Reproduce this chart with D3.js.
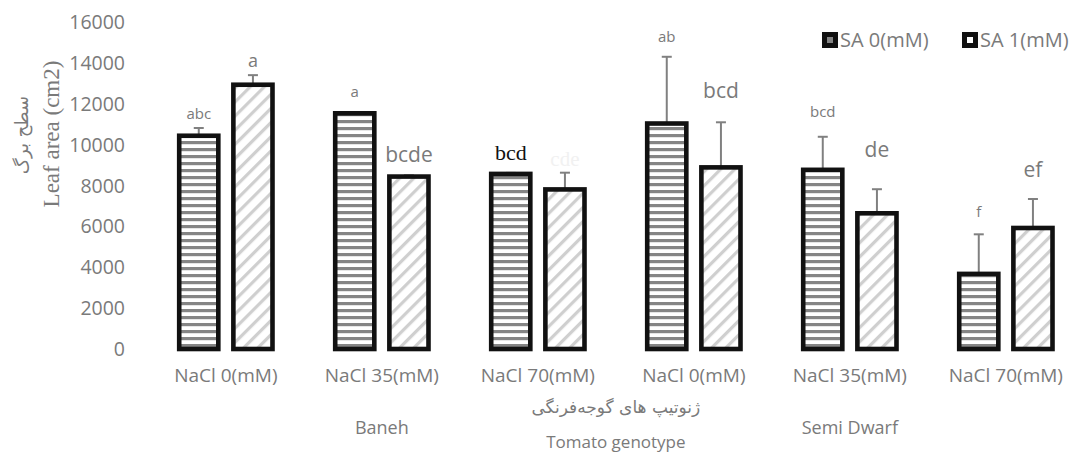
<!DOCTYPE html>
<html>
<head>
<meta charset="utf-8">
<script src="https://cdn.jsdelivr.net/npm/d3@7"></script>
<style>
  html, body { margin: 0; padding: 0; background: #fff; }
  svg { display: block; }
</style>
</head>
<body>
<svg id="chart" width="1080" height="454"></svg>
<script>
// Salinity levels within each genotype
const categories = ["NaCl 0(mM)", "NaCl 35(mM)", "NaCl 70(mM)", "NaCl 0(mM) ", "NaCl 35(mM) ", "NaCl 70(mM) "];
const categoryLabels = ["NaCl 0(mM)", "NaCl 35(mM)", "NaCl 70(mM)", "NaCl 0(mM)", "NaCl 35(mM)", "NaCl 70(mM)"];
const genotypes = ["Baneh", "Semi Dwarf"];
const seriesNames = ["SA 0(mM)", "SA 1(mM)"];

// Leaf area (cm2) means and standard errors
const sa0Values = [10450, 11550, 8580, 11050, 8780, 3680];
const sa1Values = [12950, 8450, 7820, 8900, 6650, 5930];
const sa0Errors = [380, 60, 50, 3270, 1620, 1940];
const sa1Errors = [470, 60, 820, 2210, 1180, 1420];

// Mean-separation letters
const sa0Letters = ["abc", "a", "bcd", "ab", "bcd", "f"];
const sa1Letters = ["a", "bcde", "cde", "bcd", "de", "ef"];

const yTicks = [0, 2000, 4000, 6000, 8000, 10000, 12000, 14000, 16000];

const svg = d3.select("#chart");
const defs = svg.append("defs");

// Horizontal stripes for SA 0
const pH = defs.append("pattern")
  .attr("id", "hstripe").attr("patternUnits", "userSpaceOnUse")
  .attr("width", 8).attr("height", 7);
pH.append("rect").attr("width", 8).attr("height", 7).attr("fill", "#fff");
pH.append("rect").attr("y", 1).attr("width", 8).attr("height", 3.2).attr("fill", "#858585");

// Diagonal hatch for SA 1
const pD = defs.append("pattern")
  .attr("id", "dhatch").attr("patternUnits", "userSpaceOnUse")
  .attr("width", 10).attr("height", 10)
  .attr("patternTransform", "rotate(45)");
pD.append("rect").attr("width", 10).attr("height", 10).attr("fill", "#fff");
pD.append("rect").attr("x", 0).attr("width", 3.2).attr("height", 10).attr("fill", "#cfcfcf");

const fills = ["url(#hstripe)", "url(#dhatch)"];

const x0 = d3.scaleBand()
  .domain(categories)
  .range([148, 1083.7])
  .paddingInner(0.402)
  .paddingOuter(0.2);

const x1 = d3.scaleBand()
  .domain(seriesNames)
  .range([0, x0.bandwidth()])
  .paddingInner(0.278)
  .paddingOuter(0);

const y = d3.scaleLinear().domain([0, 16000]).range([349, 22.5]);

const grey = "#7a7a7a";
const sans = "'Open Sans', sans-serif";

// Y axis (labels only)
const yAxis = d3.axisLeft(y).tickValues(yTicks).tickSize(0).tickPadding(0).tickFormat(d3.format("d"));
const gy = svg.append("g").attr("transform", "translate(125,0)").call(yAxis);
gy.select(".domain").remove();
gy.selectAll("text")
  .attr("fill", grey)
  .style("font-family", sans)
  .style("font-size", "19.5px");

// Y axis titles
svg.append("text")
  .attr("transform", "translate(59,134) rotate(-90)")
  .attr("text-anchor", "middle")
  .attr("fill", grey)
  .style("font-family", "'Liberation Serif', serif")
  .style("font-size", "23px")
  .text("Leaf area (cm2)");
svg.append("text")
  .attr("transform", "translate(28,135) rotate(-90)")
  .attr("text-anchor", "middle")
  .attr("fill", grey)
  .style("font-family", "'DejaVu Sans', sans-serif")
  .style("font-size", "18px")
  .text("سطح برگ");

// Bars
const rows = categories.map((c, i) => ({
  cat: c,
  vals: [
    { s: seriesNames[0], v: sa0Values[i], e: sa0Errors[i], l: sa0Letters[i], k: 0 },
    { s: seriesNames[1], v: sa1Values[i], e: sa1Errors[i], l: sa1Letters[i], k: 1 }
  ]
}));

const groups = svg.append("g").selectAll("g")
  .data(rows).join("g")
  .attr("transform", d => `translate(${x0(d.cat)},0)`);

const bars = groups.selectAll("g.bar").data(d => d.vals).join("g").attr("class", "bar");

// error bars (upper only)
bars.append("line")
  .attr("x1", d => x1(d.s) + x1.bandwidth() / 2)
  .attr("x2", d => x1(d.s) + x1.bandwidth() / 2)
  .attr("y1", d => y(d.v))
  .attr("y2", d => y(d.v + d.e))
  .attr("stroke", "#808080").attr("stroke-width", 2);
bars.append("line")
  .attr("x1", d => x1(d.s) + x1.bandwidth() / 2 - 5)
  .attr("x2", d => x1(d.s) + x1.bandwidth() / 2 + 5)
  .attr("y1", d => y(d.v + d.e))
  .attr("y2", d => y(d.v + d.e))
  .attr("stroke", "#808080").attr("stroke-width", 2);

bars.append("rect")
  .attr("x", d => x1(d.s))
  .attr("width", x1.bandwidth())
  .attr("y", d => y(d.v))
  .attr("height", d => y(0) - y(d.v))
  .attr("fill", d => fills[d.k])
  .attr("stroke", "#111")
  .attr("stroke-width", 4.6);

// Letter labels: individual styling per bar as set in the figure
const letterStyle = [
  [{ lift: 14, size: 15 }, { lift: 14, size: 18 }],
  [{ lift: 20, size: 15 }, { lift: 21, size: 21 }],
  [{ lift: 21, size: 22, serif: true, color: "#111" }, { lift: 14, size: 21, serif: true, color: "#f1f1f1" }],
  [{ lift: 20, size: 15 }, { lift: 32, size: 21 }],
  [{ lift: 25, size: 15 }, { lift: 40, size: 21 }],
  [{ lift: 23, size: 15 }, { lift: 29, size: 21 }]
];

groups.each(function (row, gi) {
  d3.select(this).selectAll("text.letter").data(row.vals).join("text")
    .attr("class", "letter")
    .attr("x", d => x1(d.s) + x1.bandwidth() / 2)
    .attr("y", d => y(d.v + d.e) - letterStyle[gi][d.k].lift)
    .attr("dy", "0.35em")
    .attr("text-anchor", "middle")
    .attr("fill", d => letterStyle[gi][d.k].color || grey)
    .style("font-family", d => letterStyle[gi][d.k].serif ? "'Liberation Serif', serif" : sans)
    .style("font-size", d => letterStyle[gi][d.k].size + "px")
    .text(d => d.l);
});

// Category axis labels
const xAxis = d3.axisBottom(x0).tickSize(0).tickPadding(0).tickFormat((d, i) => categoryLabels[i]);
const gx = svg.append("g").attr("transform", "translate(0,368)").call(xAxis);
gx.select(".domain").remove();
gx.selectAll("text")
  .attr("fill", grey)
  .style("font-family", sans)
  .style("font-size", "19px");

// Genotype labels
const genoCenters = [
  (x0(categories[0]) + x0(categories[2]) + x0.bandwidth()) / 2,
  (x0(categories[3]) + x0(categories[5]) + x0.bandwidth()) / 2
];
svg.selectAll("text.geno").data(genotypes).join("text")
  .attr("class", "geno")
  .attr("x", (d, i) => genoCenters[i])
  .attr("y", 434)
  .attr("text-anchor", "middle")
  .attr("fill", grey)
  .style("font-family", sans)
  .style("font-size", "18px")
  .text(d => d);

const midX = (x0(categories[2]) + x0.bandwidth() + x0(categories[3])) / 2;
svg.append("text")
  .attr("x", midX).attr("y", 413)
  .attr("text-anchor", "middle")
  .attr("fill", grey)
  .style("font-family", "'DejaVu Sans', sans-serif")
  .style("font-size", "17px")
  .text("ژنوتیپ های گوجه‌فرنگی");
svg.append("text")
  .attr("x", midX).attr("y", 448)
  .attr("text-anchor", "middle")
  .attr("fill", grey)
  .style("font-family", sans)
  .style("font-size", "17px")
  .text("Tomato genotype");

// Legend
const legendX = [822, 962];
const lg = svg.append("g").selectAll("g").data(seriesNames).join("g")
  .attr("transform", (d, i) => `translate(${legendX[i]},32)`);
lg.append("rect")
  .attr("x", 2.5).attr("y", 2.5).attr("width", 11).attr("height", 11)
  .attr("fill", (d, i) => i === 0 ? "#858585" : "#fff")
  .attr("stroke", "#111").attr("stroke-width", 5);
lg.append("text")
  .attr("x", 18).attr("y", 8).attr("dy", "0.35em")
  .attr("fill", grey)
  .style("font-family", sans)
  .style("font-size", "20px")
  .text(d => d);
</script>
</body>
</html>
